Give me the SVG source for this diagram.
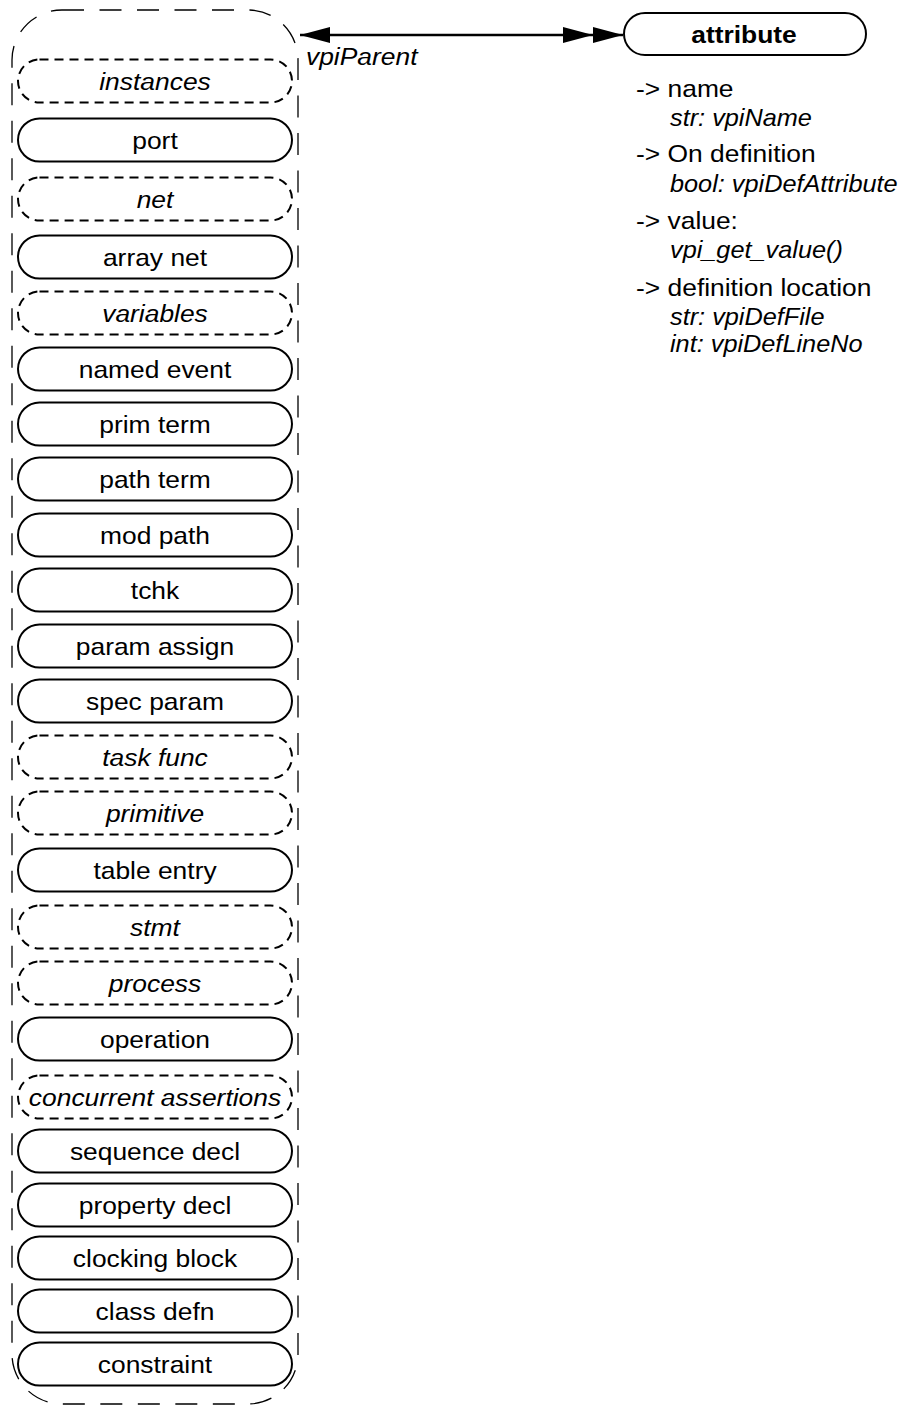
<svg xmlns="http://www.w3.org/2000/svg" width="907" height="1408" viewBox="0 0 907 1408">
<style>
text{font-family:"Liberation Sans",Arial,sans-serif;font-size:24px;fill:#000}
.n text{text-anchor:middle}
.i{font-style:italic}
.b{font-weight:bold}
.s{font-size:23px;font-style:italic}
.solid{fill:#fff;stroke:#000;stroke-width:2}
.dash{fill:#fff;stroke:#000;stroke-width:2;stroke-dasharray:9 6}
.outer{fill:none;stroke:#000;stroke-width:1.3;stroke-dasharray:22 15.5}
.conn{stroke:#000;stroke-width:2.5;fill:none}
</style>
<defs>
<marker id="ah" viewBox="0 0 30 16" refX="30" refY="8" markerWidth="30" markerHeight="16" markerUnits="userSpaceOnUse" orient="auto-start-reverse">
<path d="M0,0 L30,8 L0,16 Z" fill="#000"/>
</marker>
</defs>
<g id="container">
<rect class="outer" x="12" y="10" width="286" height="1394" rx="50" ry="50"/>
</g>
<g id="n-instances" class="n"><rect class="dash" x="18" y="59.5" width="274" height="43" rx="21.5"/><text class="i" transform="translate(155 89.5) scale(1.1 1)">instances</text></g>
<g id="n-port" class="n"><rect class="solid" x="18" y="118.5" width="274" height="43" rx="21.5"/><text transform="translate(155 148.5) scale(1.1 1)">port</text></g>
<g id="n-net" class="n"><rect class="dash" x="18" y="177.5" width="274" height="43" rx="21.5"/><text class="i" transform="translate(155 207.5) scale(1.1 1)">net</text></g>
<g id="n-array-net" class="n"><rect class="solid" x="18" y="235.5" width="274" height="43" rx="21.5"/><text transform="translate(155 265.5) scale(1.1 1)">array net</text></g>
<g id="n-variables" class="n"><rect class="dash" x="18" y="291.5" width="274" height="43" rx="21.5"/><text class="i" transform="translate(155 321.5) scale(1.1 1)">variables</text></g>
<g id="n-named-event" class="n"><rect class="solid" x="18" y="347.5" width="274" height="43" rx="21.5"/><text transform="translate(155 377.5) scale(1.1 1)">named event</text></g>
<g id="n-prim-term" class="n"><rect class="solid" x="18" y="402.5" width="274" height="43" rx="21.5"/><text transform="translate(155 432.5) scale(1.1 1)">prim term</text></g>
<g id="n-path-term" class="n"><rect class="solid" x="18" y="457.5" width="274" height="43" rx="21.5"/><text transform="translate(155 487.5) scale(1.1 1)">path term</text></g>
<g id="n-mod-path" class="n"><rect class="solid" x="18" y="513.5" width="274" height="43" rx="21.5"/><text transform="translate(155 543.5) scale(1.1 1)">mod path</text></g>
<g id="n-tchk" class="n"><rect class="solid" x="18" y="568.5" width="274" height="43" rx="21.5"/><text transform="translate(155 598.5) scale(1.1 1)">tchk</text></g>
<g id="n-param-assign" class="n"><rect class="solid" x="18" y="624.5" width="274" height="43" rx="21.5"/><text transform="translate(155 654.5) scale(1.1 1)">param assign</text></g>
<g id="n-spec-param" class="n"><rect class="solid" x="18" y="679.5" width="274" height="43" rx="21.5"/><text transform="translate(155 709.5) scale(1.1 1)">spec param</text></g>
<g id="n-task-func" class="n"><rect class="dash" x="18" y="735.5" width="274" height="43" rx="21.5"/><text class="i" transform="translate(155 765.5) scale(1.1 1)">task func</text></g>
<g id="n-primitive" class="n"><rect class="dash" x="18" y="791.5" width="274" height="43" rx="21.5"/><text class="i" transform="translate(155 821.5) scale(1.1 1)">primitive</text></g>
<g id="n-table-entry" class="n"><rect class="solid" x="18" y="848.5" width="274" height="43" rx="21.5"/><text transform="translate(155 878.5) scale(1.1 1)">table entry</text></g>
<g id="n-stmt" class="n"><rect class="dash" x="18" y="905.5" width="274" height="43" rx="21.5"/><text class="i" transform="translate(155 935.5) scale(1.1 1)">stmt</text></g>
<g id="n-process" class="n"><rect class="dash" x="18" y="961.5" width="274" height="43" rx="21.5"/><text class="i" transform="translate(155 991.5) scale(1.1 1)">process</text></g>
<g id="n-operation" class="n"><rect class="solid" x="18" y="1017.5" width="274" height="43" rx="21.5"/><text transform="translate(155 1047.5) scale(1.1 1)">operation</text></g>
<g id="n-concurrent-assertions" class="n"><rect class="dash" x="18" y="1075.5" width="274" height="43" rx="21.5"/><text class="i" transform="translate(155 1105.5) scale(1.1 1)">concurrent assertions</text></g>
<g id="n-sequence-decl" class="n"><rect class="solid" x="18" y="1129.5" width="274" height="43" rx="21.5"/><text transform="translate(155 1159.5) scale(1.1 1)">sequence decl</text></g>
<g id="n-property-decl" class="n"><rect class="solid" x="18" y="1183.5" width="274" height="43" rx="21.5"/><text transform="translate(155 1213.5) scale(1.1 1)">property decl</text></g>
<g id="n-clocking-block" class="n"><rect class="solid" x="18" y="1236.5" width="274" height="43" rx="21.5"/><text transform="translate(155 1266.5) scale(1.1 1)">clocking block</text></g>
<g id="n-class-defn" class="n"><rect class="solid" x="18" y="1289.5" width="274" height="43" rx="21.5"/><text transform="translate(155 1319.5) scale(1.1 1)">class defn</text></g>
<g id="n-constraint" class="n"><rect class="solid" x="18" y="1342.5" width="274" height="43" rx="21.5"/><text transform="translate(155 1372.5) scale(1.1 1)">constraint</text></g>
<g id="n-attribute" class="n"><rect class="solid" x="624" y="13" width="242" height="42" rx="21"/><text class="b" transform="translate(744 42.5) scale(1.1 1)">attribute</text></g>
<g id="connectors">
<line class="conn" x1="300" y1="35" x2="593" y2="35" marker-start="url(#ah)" marker-end="url(#ah)"/>
<line class="conn" x1="593" y1="35" x2="623" y2="35" marker-end="url(#ah)"/>
<text class="i" transform="translate(306 65) scale(1.1 1)">vpiParent</text>
</g>
<g id="attribute-props">
<text transform="translate(636 97) scale(1.1 1)">-&gt; name</text>
<text class="s" transform="translate(670 126) scale(1.1 1)">str: vpiName</text>
<text transform="translate(636 162) scale(1.1 1)">-&gt; On definition</text>
<text class="s" transform="translate(670 192) scale(1.1 1)">bool: vpiDefAttribute</text>
<text transform="translate(636 229) scale(1.1 1)">-&gt; value:</text>
<text class="s" transform="translate(670 258) scale(1.1 1)">vpi_get_value()</text>
<text transform="translate(636 296) scale(1.1 1)">-&gt; definition location</text>
<text class="s" transform="translate(670 325) scale(1.1 1)">str: vpiDefFile</text>
<text class="s" transform="translate(670 352) scale(1.1 1)">int: vpiDefLineNo</text>
</g>
</svg>
